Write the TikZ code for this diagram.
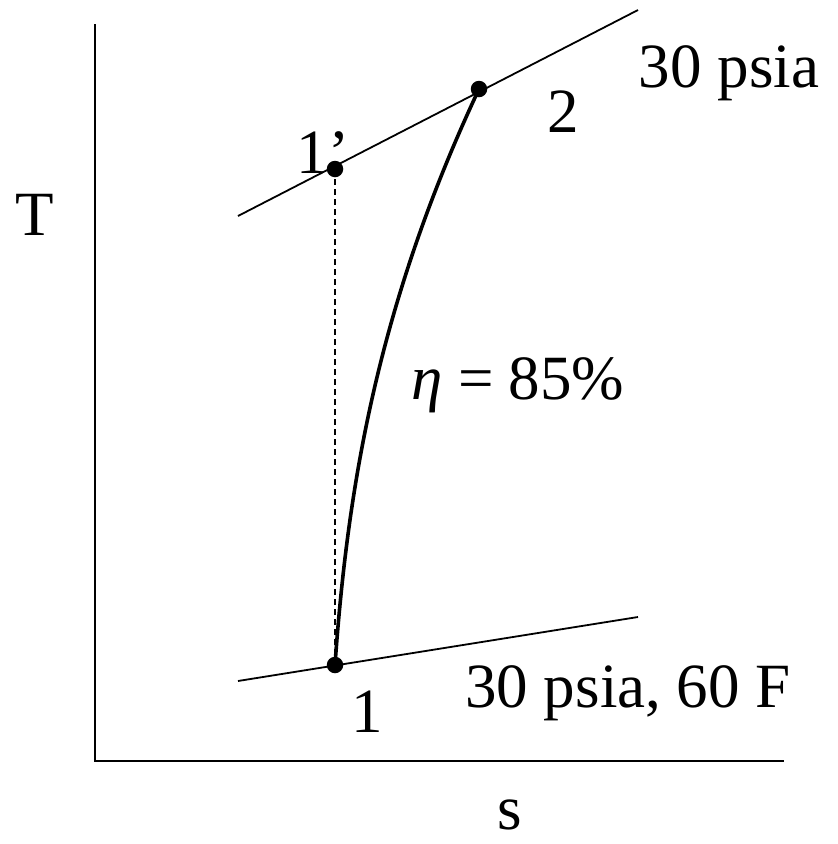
\documentclass[tikz,border=0pt]{standalone}
\usepackage{fontspec}
\setmainfont{Liberation Serif}
\begin{document}
\begin{tikzpicture}[x=1pt,y=-1pt,
  thinline/.style={line width=1.8pt},
  dot/.style={circle,fill=black,inner sep=0pt,minimum size=16.5pt},
  lbl/.style={font=\fontsize{63}{72}\selectfont,inner sep=0pt}]
\useasboundingbox (0,0) rectangle (838,844);
% axes
\coordinate (o) at (95,761);
\coordinate (ytop) at (95,24);
\coordinate (xend) at (784,761);
\draw[thinline] (ytop) -- (o) -- (xend);
% pressure lines
\coordinate (ua) at (238,216);
\coordinate (ub) at (638,10);
\coordinate (la) at (238,681);
\coordinate (lb) at (638,617);
\draw[thinline] (ua) -- (ub);
\draw[thinline] (la) -- (lb);
% states
\node[dot] (p1) at (335,665) {};
\node[dot] (p1p) at (335,169) {};
\node[dot] (p2) at (479,89) {};
\draw[line width=1.3pt,dash pattern=on 6pt off 4pt] (p1.center) -- (p1p.center);
\draw[line width=3.6pt] (p1.center) .. controls (348,480) and (380,300) .. (p2.center);
% labels
\node[lbl] (lT) at (35,215) {T};
\node[lbl] (ls) at (510,815) {s};
\node[lbl] (l1p) at (323,153) {1’};
\node[lbl] (l1) at (367,712) {1};
\node[lbl] (l2) at (563,112) {2};
\node[lbl] (lup) at (729,73) {30 psia};
\node[lbl] (llow) at (628,693) {30 psia, 60 F};
\node[lbl] (leta) at (518,385) {{\itshape η}\hspace{0.24em}=\hspace{0.24em}85\%};
\end{tikzpicture}
\end{document}
